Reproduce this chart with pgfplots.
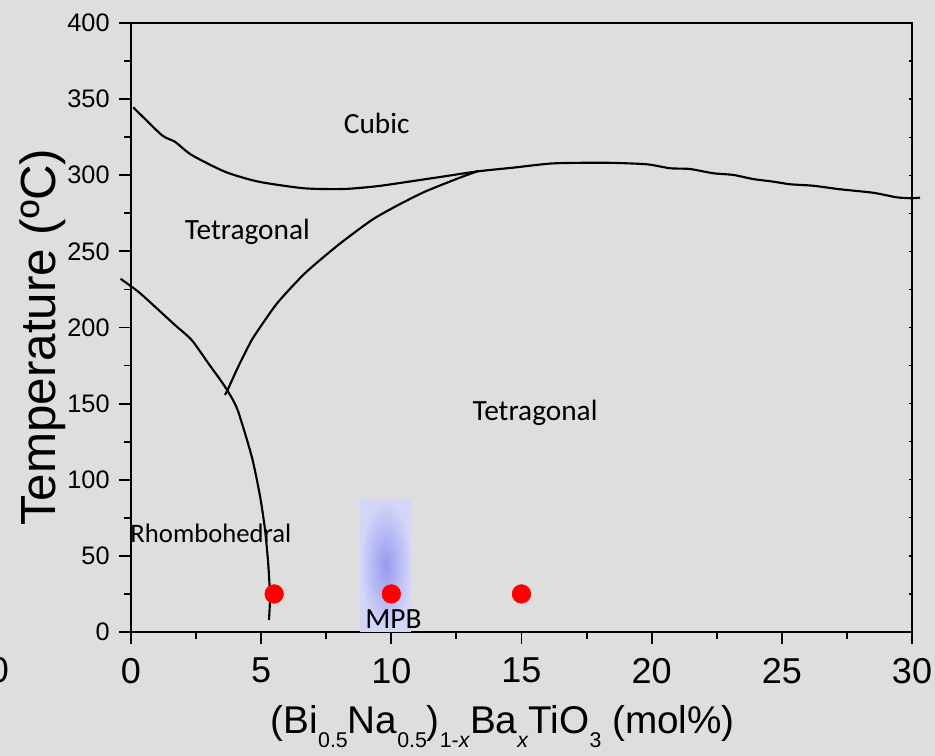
\documentclass[border=0pt]{standalone}
\usepackage{pgfplots}
\pgfplotsset{compat=1.18}
\usepackage{fontspec}
\setmainfont{Liberation Sans}
\newfontfamily\calib{Carlito}
\definecolor{bg}{RGB}{222,222,222}
\definecolor{mpbin}{RGB}{150,155,238}
\definecolor{mpbout}{RGB}{212,214,248}
\newcommand{\sub}[1]{\raisebox{-11pt}{\fontsize{16}{16}\selectfont #1}}
\begin{document}
\begin{tikzpicture}
\fill[bg] (-98.25pt,-93pt) rectangle (603pt,474pt);
\begin{axis}[
 at={(0,0)}, anchor=south west,
 scale only axis, width=585.75pt, height=456.75pt,
 xmin=0, xmax=30, ymin=0, ymax=400,
 clip=false,
 axis line style={line width=1.6pt},
 every tick/.style={line width=1.4pt, black},
 tick pos=left, tick align=outside,
 major tick length=9pt, minor tick length=5pt,
 xtick={0,5,...,30}, ytick={0,50,...,400},
 minor x tick num=1, minor y tick num=1,
 /pgf/number format/assume math mode=true,
 x tick label style={font=\fontsize{27}{27}\selectfont, yshift=-7pt},
 y tick label style={font=\fontsize{19}{19}\selectfont, xshift=-3.5pt},
 xlabel={(Bi\sub{0.5}Na\sub{0.5})\sub{1-\textit{x}}Ba\sub{\textit{x}}TiO\sub{3} (mol\%)},
 ylabel={Temperature (ºC)},
 xlabel style={at={(axis description cs:0.476,-0.166)}, anchor=base, font=\fontsize{29}{29}\selectfont},
 ylabel style={at={(axis description cs:-0.0973,0.484)}, anchor=base, font=\fontsize{37}{37}\selectfont},
]
% MPB region
\addplot[draw=none, inner color=mpbin, outer color=mpbout] coordinates {(8.8,86.7) (10.76,86.7)} \closedcycle;
% Cubic / tetragonal boundary
\addplot[black, line width=1.6pt, smooth, tension=0.4] coordinates {
(0.09,344.6) (1.18,326.4) (1.69,322.0) (2.33,313.3) (3.61,302.3) (4.89,295.8)
(6.68,291.4) (8.22,291.0) (9.50,292.9) (10.91,296.4) (11.93,299.0) (13.34,302.6)
(14.69,305.0) (16.22,307.8) (18.27,308.2) (19.81,307.2) (20.70,304.6) (21.47,304.1)
(22.37,301.3) (23.14,300.2) (23.90,297.5) (24.67,295.8) (25.31,294.1) (26.21,293.1)
(27.23,290.8) (28.51,288.5) (29.41,285.5) (29.99,284.9) (30.31,285.3)};
% tetragonal / tetragonal boundary
\addplot[black, line width=1.6pt, smooth, tension=0.4] coordinates {
(3.61,155.7) (3.74,160.1) (4.12,174.3) (4.64,191.8) (5.15,204.9) (5.66,216.9)
(6.68,235.6) (7.96,254.2) (9.25,270.6) (10.27,280.5) (11.29,289.2) (12.57,298.0) (13.33,302.8)};
% rhombohedral boundary
\addplot[black, line width=1.6pt, smooth, tension=0.4] coordinates {
(-0.4,232.0) (0.28,223.5) (0.92,213.7) (1.69,201.6) (2.33,191.8) (2.97,176.5)
(3.61,161.1) (4.08,146.5) (4.64,115.1) (4.96,88.9) (5.15,67.0) (5.27,45.1)
(5.34,23.2) (5.30,7.9)};
% samples
\addplot[only marks, mark=*, mark size=7pt, color=red, mark options={draw=red, fill=red}] coordinates {(5.5,25) (10,25) (15,25)};
\node[font=\calib\fontsize{22}{22}\selectfont, anchor=base] at (axis cs:9.44,327.7) {Cubic};
\node[font=\calib\fontsize{22}{22}\selectfont, anchor=base] at (axis cs:4.47,258.1) {Tetragonal};
\node[font=\calib\fontsize{22}{22}\selectfont, anchor=base] at (axis cs:15.52,139.2) {Tetragonal};
\node[font=\calib\fontsize{20}{20}\selectfont, anchor=base] at (axis cs:3.07,58.5) {Rhombohedral};
\node[font=\calib\fontsize{22}{22}\selectfont, anchor=base] at (axis cs:10.08,2.4) {MPB};
\node[font=\fontsize{27}{27}\selectfont, anchor=north, inner sep=0pt] at (axis cs:-5.07,0) [yshift=-18.5pt] {0};
\end{axis}
\begin{axis}[
 at={(0,0)}, anchor=south west,
 scale only axis, width=585.75pt, height=456.75pt,
 xmin=0, xmax=30, ymin=0, ymax=400,
 hide x axis, axis y line*=right,
 axis line style={draw=none},
 ytick={0,25,...,400}, yticklabels={},
 tick align=inside, major tick length=2.5pt,
 every tick/.style={line width=1pt, black},
]
\addplot[draw=none] coordinates {(0,0)};
\end{axis}
\pgfresetboundingbox
\useasboundingbox (-98.25pt,-93pt) rectangle (603pt,474pt);
\end{tikzpicture}
\end{document}
